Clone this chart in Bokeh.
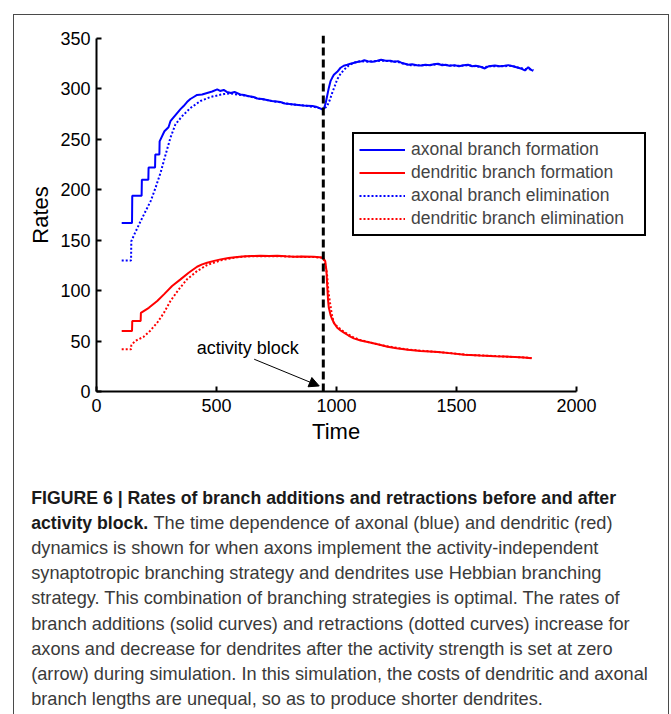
from bokeh.plotting import figure
from bokeh.layouts import column
from bokeh.models import (Range1d, FixedTicker, Arrow, NormalHead, Label, Title,
                          Legend, LegendItem, ColumnDataSource)
from bokeh.core.properties import value
from bokeh.embed import file_html
from bokeh.resources import INLINE

# ---------------- data ----------------
axon_form_t = [105, 148, 149, 188, 189, 216, 217, 244, 245, 262, 263, 283, 300, 308, 322, 336, 350, 363,
               377, 391, 405, 419, 440, 461, 482, 503, 515, 530, 543, 560, 575, 599, 615, 630, 655, 670,
               690, 710, 730, 750, 766, 785, 805, 822, 840, 860, 877, 900, 919, 930, 940, 948, 955, 961,
               968, 975, 982, 989, 1003, 1017, 1030, 1045, 1058, 1074, 1090, 1105, 1116, 1130, 1151,
               1170, 1186, 1205, 1225, 1240, 1256, 1270, 1285, 1298, 1315, 1335, 1353, 1370, 1390, 1405,
               1423, 1440, 1455, 1470, 1492, 1510, 1530, 1548, 1565, 1580, 1600, 1618, 1635, 1660, 1680,
               1700, 1716, 1735, 1757, 1772, 1785, 1799, 1813, 1820]
axon_form_v = [167, 167, 194, 194, 210, 210, 222, 222, 235, 235, 248, 258, 262, 268, 272, 276, 280, 283,
               287, 290, 292, 294, 294.5, 296, 297.5, 299.5, 298, 299, 297, 296, 297, 294.5, 294, 293,
               292, 290.5, 290, 289, 288, 287.5, 287, 285.5, 285, 284.6, 284, 283.5, 283.3, 283, 282,
               281, 279.7, 280.7, 286, 293, 301, 307.7, 311, 314, 317, 321, 323, 324, 325, 326, 327,
               327.5, 328.5, 327.5, 327, 328, 329, 328, 328, 327, 327.5, 326, 325, 324, 324.5, 323.5,
               323.3, 324, 323.5, 324.5, 325, 323.5, 324, 323, 323.6, 322.5, 323.5, 324, 322.5, 323,
               322, 320.3, 322.5, 323.3, 322.5, 323, 323.6, 322.5, 321, 320, 318.3, 321.6, 318.6, 318]

axon_elim_t = [105, 144, 145, 160, 184, 205, 226, 246, 267, 288, 308, 329, 357, 391, 433, 475, 531, 560,
               586, 615, 640, 670, 700, 730, 760, 790, 820, 850, 880, 910, 935, 945, 961, 972, 982, 993,
               1003, 1017, 1031, 1050, 1072, 1100, 1130, 1160, 1190, 1220, 1250, 1280, 1310, 1340, 1370,
               1400, 1430, 1460, 1490, 1520, 1550, 1580, 1610, 1640, 1670, 1700, 1730, 1760, 1790, 1810,
               1820]
axon_elim_v = [130, 130, 149, 157, 169, 179, 189, 202, 217, 235, 251.5, 265, 273, 281, 288, 292, 295,
               295.5, 294.5, 293.5, 292.5, 290.5, 289.5, 288, 287, 285.5, 284.5, 284, 283, 282, 280.5,
               279.5, 283, 289, 296, 303, 309.5, 315, 319, 323, 326, 327.5, 327, 327.5, 328, 327.5, 327,
               325, 323.5, 323.5, 323.5, 324, 324.5, 323.5, 323, 323, 323.5, 322.5, 321.5, 322.5, 322.5,
               322.5, 323, 321, 319.5, 319.5, 318.5]

dend_form_t = [105, 148, 149, 184, 185, 218, 253, 281, 315, 350, 384, 419, 440, 461, 490, 517, 550, 586,
               620, 650, 683, 720, 753, 790, 822, 860, 905, 930, 944, 953, 958, 961, 965, 968, 975, 982,
               992, 1003, 1017, 1031, 1050, 1072, 1100, 1144, 1180, 1213, 1250, 1297, 1350, 1423, 1480,
               1534, 1600, 1660, 1700, 1744, 1780, 1813]
dend_form_v = [60, 60, 70, 70, 78, 83, 89.7, 96.3, 104.6, 111.2, 117.7, 123.7, 126, 127.7, 129.5, 131,
               132.3, 133.3, 134, 134.3, 134.6, 134.3, 134.6, 134, 133.6, 133.8, 133.6, 133, 132.6,
               129.3, 120, 106, 90, 83, 76, 71.6, 67, 63.2, 60.5, 58.3, 55.5, 52.7, 50.5, 48.4, 46.3,
               44.4, 42.8, 41.4, 40.2, 39.1, 37.8, 36.5, 35.6, 34.9, 34.6, 34.2, 33.6, 32.9]

dend_elim_t = [105, 144, 145, 160, 195, 223, 253, 281, 308, 343, 377, 419, 461, 517, 560, 586, 620, 660,
               700, 750, 800, 850, 900, 944, 955, 961, 966, 972, 980, 989, 1003, 1017, 1035, 1050, 1072,
               1100, 1150, 1200, 1250, 1300, 1350, 1420, 1480, 1540, 1600, 1660, 1720, 1780, 1813]
dend_elim_v = [41.8, 41.8, 45.8, 50, 54, 60, 68.2, 78, 89.7, 101.3, 111.2, 119.4, 125.4, 130, 132, 133,
               133.8, 134.2, 134, 134.2, 133.8, 133.5, 133.4, 132.5, 125, 115, 100, 89.7, 77, 68, 64.5,
               61.7, 58.5, 56.5, 53.5, 51, 48, 45.3, 43.3, 41.6, 40.5, 39.2, 38, 36.4, 35.8, 35.2, 34.4,
               33.8, 33.2]

series_labels = ["axonal branch formation", "dendritic branch formation",
                 "axonal branch elimination", "dendritic branch elimination"]
x_ticks = [0, 500, 1000, 1500, 2000]
y_ticks = [0, 50, 100, 150, 200, 250, 300, 350]
block_time = 945
annot_text = "activity block"
annot_pos = (418, 43)
arrow_start = (657, 32)
arrow_end = (928, 5.5)

caption_bold_1 = "FIGURE 6 | Rates of branch additions and retractions before and after"
caption_bold_2 = "activity block."
caption_rest_2 = "The time dependence of axonal (blue) and dendritic (red)"
caption_lines = [
    "dynamics is shown for when axons implement the activity-independent",
    "synaptotropic branching strategy and dendrites use Hebbian branching",
    "strategy. This combination of branching strategies is optimal. The rates of",
    "branch additions (solid curves) and retractions (dotted curves) increase for",
    "axons and decrease for dendrites after the activity strength is set at zero",
    "(arrow) during simulation. In this simulation, the costs of dendritic and axonal",
    "branch lengths are unequal, so as to produce shorter dendrites.",
]

# ---------------- geometry ----------------
BOX_L, BOX_T = 13, 14           # outer grey box (page px)
IN_X, IN_Y = 14, 15             # page position of inner content
IN_W = 654                      # inner width of the box
TOP_H = 435                     # chart part height
CAP_H = 264                     # caption part height
FL, FT, FB = 82, 20, 376        # frame left / top / bottom inside chart figure
PX_PER_X = 480 / 2000           # px per time unit
PX_PER_Y = 353 / 350            # px per rate unit
X0, Y0 = 0, 0
X1, Y1 = 2000, 350
XR = X0 + (IN_W - FL) / PX_PER_X
YT = Y0 + (FB - FT) / PX_PER_Y
FONT = "Liberation Sans"

p = figure(width=IN_W, height=TOP_H, output_backend="svg", toolbar_location=None, title=None,
           x_range=Range1d(X0, XR), y_range=Range1d(Y0, YT),
           min_border_left=FL, min_border_right=0, min_border_top=FT,
           min_border_bottom=TOP_H - FB)
p.grid.visible = False
p.outline_line_color = None
p.background_fill_color = "white"
p.border_fill_color = "white"

for ax in (p.xaxis[0], p.yaxis[0]):
    ax.axis_line_width = 2
    ax.axis_line_color = "black"
    ax.major_tick_in = 5
    ax.major_tick_out = 0
    ax.major_tick_line_width = 2
    ax.minor_tick_line_color = None
    ax.major_label_text_font = FONT
    ax.major_label_text_font_size = "18px"
    ax.major_label_text_color = "black"

p.xaxis[0].ticker = FixedTicker(ticks=x_ticks)
p.yaxis[0].ticker = FixedTicker(ticks=y_ticks)
p.xaxis[0].bounds = (X0, X1)
p.yaxis[0].bounds = (Y0, Y1)
p.xaxis[0].major_label_standoff = 7
p.yaxis[0].major_label_standoff = 6

# axis titles centred on the 0..2000 / 0..350 spans (frame is larger to hold legend and dashed line)
time_w = 2.222 * 22
rates_w = 2.612 * 22
p.add_layout(Title(text="Time", align="left", offset=(X1 - X0) / 2 * PX_PER_X - time_w / 2,
                   text_font=FONT, text_font_size="22px", text_font_style="normal",
                   text_color="black", standoff=5), "below")
p.add_layout(Title(text="Rates", align="left",
                   offset=(Y1 - Y0) / 2 * PX_PER_Y - rates_w / 2,
                   text_font=FONT, text_font_size="22px", text_font_style="normal",
                   text_color="black", standoff=10), "left")

r1 = p.line(axon_form_t, axon_form_v, line_color="#0000ff", line_width=2)
r2 = p.line(dend_form_t, dend_form_v, line_color="#ff0000", line_width=2)
r3 = p.line(axon_elim_t, axon_elim_v, line_color="#0000ff", line_width=2, line_dash="2 2")
r4 = p.line(dend_elim_t, dend_elim_v, line_color="#ff0000", line_width=2, line_dash="2 2")

p.segment(x0=[block_time], y0=[Y0], x1=[block_time], y1=[YT], line_color="black",
          line_width=3, line_dash="8 4")

p.add_layout(Arrow(x_start=arrow_start[0], y_start=arrow_start[1], x_end=arrow_end[0], y_end=arrow_end[1],
                   line_width=1, line_color="black",
                   end=NormalHead(size=10, fill_color="black", line_color="black")))
p.add_layout(Label(x=annot_pos[0], y=annot_pos[1], text=annot_text, text_font=FONT,
                   text_font_size="18px", text_baseline="middle", text_color="black"))

legend = Legend(items=[LegendItem(label=series_labels[0], renderers=[r1]),
                       LegendItem(label=series_labels[1], renderers=[r2]),
                       LegendItem(label=series_labels[2], renderers=[r3]),
                       LegendItem(label=series_labels[3], renderers=[r4])],
                location=(256, 155), orientation="vertical",
                border_line_color="black", border_line_width=2, border_line_alpha=1,
                background_fill_color="white", background_fill_alpha=1,
                label_text_font=FONT, label_text_font_size="17.5px",
                glyph_width=46, glyph_height=19, label_height=19, spacing=2,
                label_standoff=6, padding=5, margin=0, label_width=228)
p.add_layout(legend)

# ---------------- caption ----------------
cap = figure(width=IN_W, height=CAP_H, output_backend="svg", toolbar_location=None, title=None,
             x_range=Range1d(0, IN_W), y_range=Range1d(CAP_H, 0),
             x_axis_type=None, y_axis_type=None,
             min_border_left=0, min_border_right=0, min_border_top=0, min_border_bottom=0)
cap.grid.visible = False
cap.outline_line_color = None
cap.background_fill_color = "white"
cap.border_fill_color = "white"
for fig in (p, cap):
    try:
        fig.frame_align = False
    except AttributeError:
        pass

cap_top = IN_Y + TOP_H
line_y0, line_dy = 497 - cap_top, 25.2
cap_x, rest_x = 30.7 - IN_X, 153 - IN_X
bold_src = ColumnDataSource(dict(x=[cap_x, cap_x], y=[line_y0, line_y0 + line_dy],
                                 text=[caption_bold_1, caption_bold_2]))
norm_src = ColumnDataSource(dict(
    x=[rest_x] + [cap_x] * len(caption_lines),
    y=[line_y0 + line_dy] + [line_y0 + line_dy * (i + 2) for i in range(len(caption_lines))],
    text=[caption_rest_2] + caption_lines))
cap.text(x="x", y="y", text="text", source=bold_src, text_font=value(FONT),
         text_font_style="bold", text_font_size="17.7px", text_baseline="middle", text_color="#1a1a1a")
cap.text(x="x", y="y", text="text", source=norm_src, text_font=value(FONT),
         text_font_size="18.2px", text_baseline="middle", text_color="#3a3a3a")

layout = column(p, cap, spacing=0, margin=(BOX_T, 0, 0, BOX_L),
                styles={"border-top": "1px solid #4a4a4a", "border-left": "1px solid #4a4a4a",
                        "border-right": "1px solid #4a4a4a", "background-color": "white"})

open("out.html", "w").write(file_html(layout, INLINE))
